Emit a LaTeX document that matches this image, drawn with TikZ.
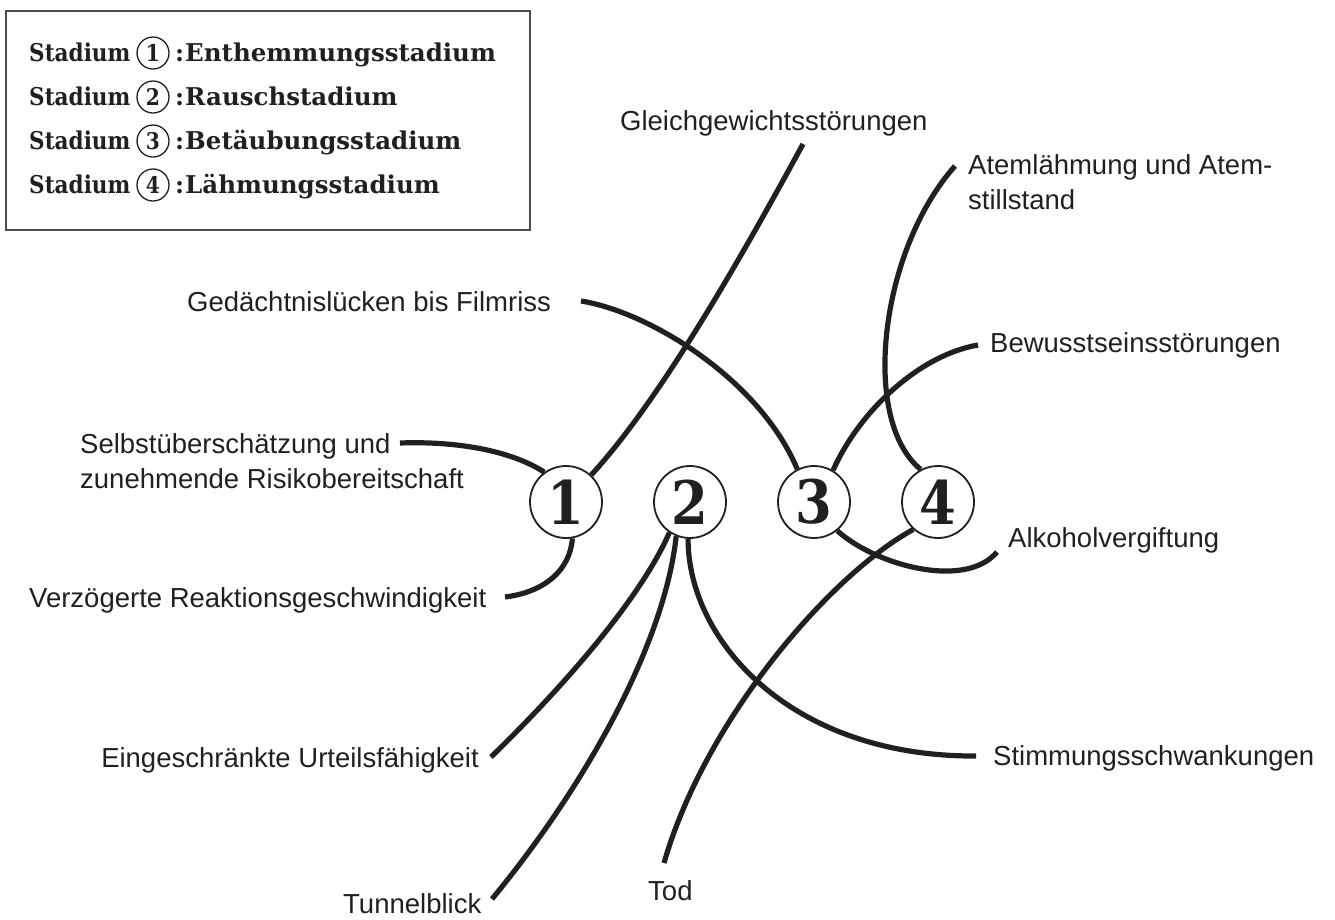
\documentclass[tikz,border=0pt]{standalone}
\usepackage{fontspec}
\setmainfont{Liberation Sans}
\newfontfamily\slabfont{DejaVu Serif}
\newfontfamily\digitfont[FakeStretch=0.88]{DejaVu Serif}
\usetikzlibrary{positioning}
\definecolor{ink}{RGB}{35,31,32}

\begin{document}
\begin{tikzpicture}[x=1pt, y=-1pt,
    lbl/.style={inner sep=0pt, anchor=base west, text=ink, align=left,
        font=\fontsize{27.5}{35}\selectfont},
    stage/.style={circle, draw=ink, line width=1.8pt, fill=white, minimum size=72pt,
        inner sep=0pt, text=ink, font=\digitfont\bfseries\fontsize{60}{60}\selectfont},
    legnum/.style={circle, draw=ink, line width=1.3pt, minimum size=32pt, inner sep=0pt,
        text=ink, font=\digitfont\bfseries\fontsize{23}{23}\selectfont},
    legtxt/.style={inner sep=0pt, anchor=base west, text=ink,
        font=\slabfont\bfseries\fontsize{24.5}{24.5}\selectfont},
    link/.style={draw=ink, line width=5.2pt}]
    \useasboundingbox (0,0) rectangle (1335,919);

    % Legend
    \draw[gray!60!black, line width=1.3pt] (6,11) rectangle (530,230);
    \foreach \n/\name [count=\i from 0] in {1/Enthemmungsstadium, 2/Rauschstadium,
        3/Betäubungsstadium, 4/Lähmungsstadium} {
        \node[legtxt, font=\digitfont\bfseries\fontsize{24.5}{24.5}\selectfont]
            (leg\n) at (29,61+44*\i) {Stadium};
        \node[legnum] (legc\n) at (153,53+44*\i) {\n};
        \node[legtxt] (legt\n) at (175,61+44*\i) {:\kern1pt\name};
    }

    % Stadien
    \node[stage] (s1) at (566,502) {1};
    \node[stage] (s2) at (690,502) {2};
    \node[stage] (s3) at (814,502) {3};
    \node[stage] (s4) at (938,502) {4};

    % Symptome
    \node[lbl] (gleich) at (620,130) {Gleichgewichtsstörungen};
    \node[lbl] (atem) at (968,209) {Atemlähmung und Atem-\\stillstand};
    \node[lbl] (gedaecht) at (187,311) {Gedächtnislücken bis Filmriss};
    \node[lbl] (bewusst) at (990,352) {Bewusstseinsstörungen};
    \node[lbl] (selbst) at (80,488) {Selbstüberschätzung und\\zunehmende Risikobereitschaft};
    \node[lbl] (verz) at (29,607) {Verzögerte Reaktionsgeschwindigkeit};
    \node[lbl] (alkohol) at (1008,547) {Alkoholvergiftung};
    \node[lbl, anchor=base east] (urteil) at (479,767) {Eingeschränkte Urteilsfähigkeit};
    \node[lbl] (stimmung) at (993,765) {Stimmungsschwankungen};
    \node[lbl] (tod) at (648,900) {Tod};
    \node[lbl] (tunnel) at (343,913) {Tunnelblick};

    % freie Enden
    \coordinate (gleich-e) at (803,144);
    \coordinate (atem-e) at (955,166);
    \coordinate (gedaecht-e) at (581,301);
    \coordinate (bewusst-e) at (978,345);
    \coordinate (selbst-e) at (400,443);
    \coordinate (verz-e) at (505,597);
    \coordinate (alkohol-e) at (997,552);
    \coordinate (urteil-e) at (491,757);
    \coordinate (stimmung-e) at (976,756);
    \coordinate (tod-e) at (664,863);
    \coordinate (tunnel-e) at (492,899);

    % Stadium 1
    \draw[link] (selbst-e) .. controls (455,441) and (510,450) .. (s1.126);
    \draw[link] (gleich-e) .. controls (740,260) and (660,400) .. (s1.47);
    \draw[link] (verz-e) .. controls (545,592) and (570,570) .. (s1.280);
    % Stadium 2
    \draw[link] (urteil-e) .. controls (560,690) and (640,600) .. (s2.236);
    \draw[link] (tunnel-e) .. controls (590,780) and (665,640) .. (s2.248);
    \draw[link] (stimmung-e) .. controls (790,757) and (688,640) .. (s2.267);
    % Stadium 3
    \draw[link] (gedaecht-e) .. controls (650,312) and (760,380) .. (s3.117);
    \draw[link] (bewusst-e) .. controls (920,355) and (860,410) .. (s3.59);
    \draw[link] (alkohol-e) .. controls (965,590) and (875,565) .. (s3.309);
    % Stadium 4
    \draw[link] (atem-e) .. controls (880,250) and (860,420) .. (s4.118);
    \draw[link] (tod-e) .. controls (705,720) and (830,575) .. (s4.228);
\end{tikzpicture}
\end{document}
